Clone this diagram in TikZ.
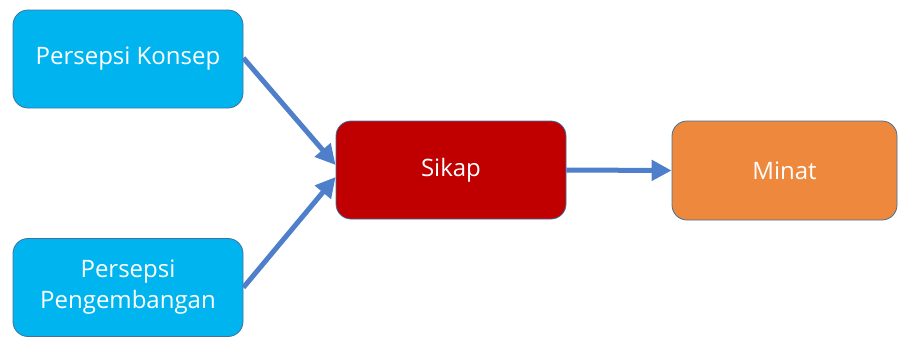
\documentclass[tikz,border=0pt]{standalone}
\usepackage{fontspec}
\setmainfont{Open Sans}
\usetikzlibrary{arrows.meta}
\definecolor{cyanbox}{HTML}{00B5EF}
\definecolor{redbox}{HTML}{C00000}
\definecolor{orangebox}{HTML}{EE883C}
\definecolor{edgeblue}{HTML}{41719C}
\definecolor{arrowblue}{HTML}{4F7FCB}
\tikzset{
  box/.style={draw=edgeblue, line width=0.8pt, rounded corners=15pt, text=white,
    minimum width=230pt, minimum height=98pt, align=center, inner sep=0pt,
    font=\fontsize{24}{31}\selectfont},
  conn/.style={draw=arrowblue, line width=5pt, -{Triangle[length=20pt,width=20pt]}}
}
\begin{document}
\begin{tikzpicture}[x=1pt,y=-1pt]
\useasboundingbox (0,0) rectangle (898,338);
\node[box, fill=cyanbox] (pk) at (128,59) {Persepsi Konsep};
\node[box, fill=cyanbox] (pp) at (128,287.5) {Persepsi\\Pengembangan};
\node[box, fill=redbox] (sk) at (451,170) {Sikap};
\node[box, fill=orangebox, minimum width=225pt, minimum height=99pt] (mn) at (784.5,170.5) {Minat};
\draw[conn] ([yshift=1pt]pk.east) -- ([yshift=5pt]sk.west);
\draw[conn] ([yshift=0pt]pp.east) -- ([yshift=-7pt]sk.west);
\draw[conn] (sk.east) -- (mn.west);
\end{tikzpicture}
\end{document}
